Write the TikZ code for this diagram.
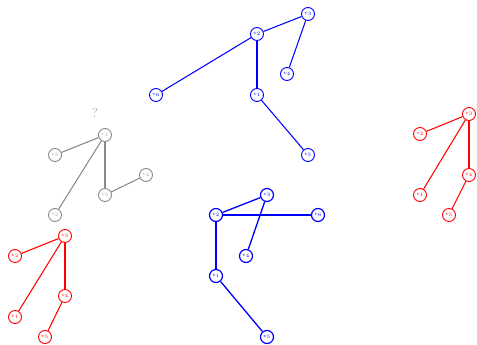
\documentclass[tikz,border=0pt]{standalone}
\usepackage{tikz}
\definecolor{gris}{HTML}{8A8A8A}
\definecolor{azul}{HTML}{0000FF}
\definecolor{rojo}{HTML}{FF0000}

\begin{document}
\begin{tikzpicture}[
    x=1pt,y=-1pt,
    every node/.style={font=\fontsize{4}{4}\selectfont,align=center},
    vert/.style={circle,draw,fill=white,line width=0.9pt,minimum size=13pt,inner sep=0pt},
    gvert/.style={vert,draw=gris,text=gris!80},
    bvert/.style={vert,draw=azul,text=azul},
    rvert/.style={vert,draw=rojo,text=rojo},
    gedge/.style={color=gris,line width=1.05pt},
    bedge/.style={color=azul,line width=1.05pt},
    redge/.style={color=rojo,line width=1.05pt}
  ]
    \useasboundingbox (0,0) rectangle (477,345);
    % upper blue tree
    \node[bvert] (a3) at (308,14) {$v_3$};
    \node[bvert] (a2) at (257,34) {$v_2$};
    \node[bvert] (a4) at (287,74) {$v_4$};
    \node[bvert] (a6) at (156,95) {$v_6$};
    \node[bvert] (a1) at (257,95) {$v_1$};
    \node[bvert] (a5) at (308,155) {$v_5$};
    \draw[bedge] (a3) -- (a2);
    \draw[bedge] (a3) -- (a4);
    \draw[bedge] (a2) -- (a6);
    \draw[bedge] (a2) -- (a1);
    \draw[bedge] (a1) -- (a5);
    % gray tree
    \node[text=gris!75,font=\fontsize{13}{13}\selectfont] (q) at (95,113) {?};
    \node[gvert] (g1) at (105,135) {$v_1$};
    \node[gvert] (g3) at (55,155) {$v_3$};
    \node[gvert] (g4) at (146,175) {$v_4$};
    \node[gvert] (g5) at (105,195) {$v_5$};
    \node[gvert] (g2) at (55,215) {$v_2$};
    \draw[gedge] (g1) -- (g3);
    \draw[gedge] (g1) -- (g2);
    \draw[gedge] (g1) -- (g5);
    \draw[gedge] (g5) -- (g4);
    % right red tree
    \node[rvert] (r3) at (469,114) {$v_3$};
    \node[rvert] (r2) at (420,134) {$v_2$};
    \node[rvert] (r4) at (469,175) {$v_4$};
    \node[rvert] (r1) at (420,195) {$v_1$};
    \node[rvert] (r5) at (449,215) {$v_5$};
    \draw[redge] (r3) -- (r2);
    \draw[redge] (r3) -- (r1);
    \draw[redge] (r3) -- (r4);
    \draw[redge] (r4) -- (r5);
    % left red tree
    \node[rvert] (s3) at (65,236) {$v_3$};
    \node[rvert] (s2) at (15,256) {$v_2$};
    \node[rvert] (s4) at (65,296) {$v_4$};
    \node[rvert] (s1) at (15,317) {$v_1$};
    \node[rvert] (s5) at (45,337) {$v_5$};
    \draw[redge] (s3) -- (s2);
    \draw[redge] (s3) -- (s1);
    \draw[redge] (s3) -- (s4);
    \draw[redge] (s4) -- (s5);
    % lower blue tree
    \node[bvert,line width=1.2pt] (b3) at (267,195) {$v_3$};
    \node[bvert,line width=1.2pt] (b2) at (216,215) {$v_2$};
    \node[bvert,line width=1.2pt] (b6) at (318,215) {$v_6$};
    \node[bvert,line width=1.2pt] (b4) at (246,256) {$v_4$};
    \node[bvert,line width=1.2pt] (b1) at (216,276) {$v_1$};
    \node[bvert,line width=1.2pt] (b5) at (267,337) {$v_5$};
    \draw[bedge,line width=1.3pt] (b3) -- (b2);
    \draw[bedge,line width=1.3pt] (b3) -- (b4);
    \draw[bedge,line width=1.3pt] (b2) -- (b6);
    \draw[bedge,line width=1.3pt] (b2) -- (b1);
    \draw[bedge,line width=1.3pt] (b1) -- (b5);
  \end{tikzpicture}
\end{document}
